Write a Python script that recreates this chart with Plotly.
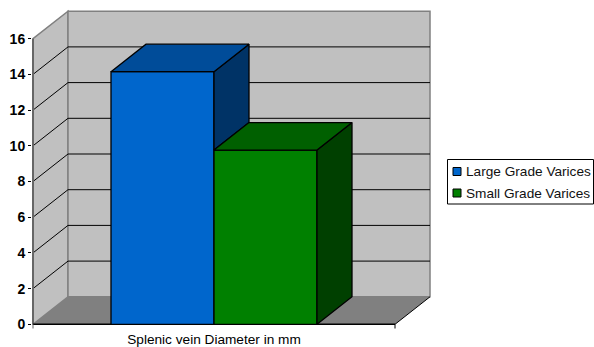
import plotly.graph_objects as go

# Chart data
category = "Splenic vein Diameter in mm"
series_names = ["Large Grade Varices", "Small Grade Varices"]
series_values = [14.15, 9.76]
y_ticks = [0, 2, 4, 6, 8, 10, 12, 14, 16]

# Face colours per series: front, top, side
front_colors = ["#0066CC", "#008000"]
top_colors = ["#004C99", "#006000"]
side_colors = ["#003366", "#004000"]
WALL = "#C0C0C0"
FLOOR = "#808080"
EDGE = "#808080"

W, H = 594, 347
# Plot frame in page pixels
LEFT, RIGHT, TOP, BOTTOM = 32, 432, 9, 325
PX_PER_UNIT = 17.85
ZERO_Y = 324.3
DEPTH_X = 35            # x units are pixels along the front plane
DEPTH_V = 27.5 / PX_PER_UNIT
SLOT = 362
BAR_START = 78
BAR_WIDTH = 103
BAR_EDGE = 1.3

y_lo = (ZERO_Y - BOTTOM) / PX_PER_UNIT
y_hi = (ZERO_Y - TOP) / PX_PER_UNIT
top_v = y_ticks[-1]


def poly(points, fill, color="rgba(0,0,0,0)", width=1, layer="below"):
    path = "M" + " L".join(f"{x},{y}" for x, y in points) + " Z"
    return dict(type="path", path=path, xref="x", yref="y", fillcolor=fill,
                line=dict(color=color, width=width), layer=layer)


def seg(x0, y0, x1, y1, color="black", width=1):
    return dict(type="line", xref="x", yref="y", x0=x0, y0=y0, x1=x1, y1=y1,
                line=dict(color=color, width=width), layer="below")


# Legend and end ticks are placed in page pixels (paper space spans the plot frame)
def px(x):
    return (x - LEFT) / (RIGHT - LEFT)


def py(y):
    return (BOTTOM - y) / (BOTTOM - TOP)


shapes = [
    # left wall, back wall, floor
    poly([(0, 0), (DEPTH_X, DEPTH_V), (DEPTH_X, top_v + DEPTH_V), (0, top_v)], WALL, EDGE, 1.5),
    poly([(DEPTH_X, DEPTH_V), (SLOT + DEPTH_X, DEPTH_V), (SLOT + DEPTH_X, top_v + DEPTH_V),
          (DEPTH_X, top_v + DEPTH_V)], WALL, EDGE, 1.5),
    poly([(0, 0), (SLOT, 0), (SLOT + DEPTH_X, DEPTH_V), (DEPTH_X, DEPTH_V)], FLOOR),
]
# Gridlines wrap from the left wall on to the back wall
for t in y_ticks[1:-1]:
    shapes.append(seg(0, t, DEPTH_X, t + DEPTH_V))
    shapes.append(seg(DEPTH_X, t + DEPTH_V, SLOT + DEPTH_X, t + DEPTH_V))
# Axes drawn on the front plane
shapes.append(seg(0, 0, 0, top_v, "#666666", 2))
shapes.append(seg(0, 0, SLOT, 0, "black", 1.5))
shapes.append(seg(SLOT, 0, SLOT + DEPTH_X, DEPTH_V, "black", 1))
# Category boundary ticks below the front axis
for tx, color in ((0, "#666666"), (SLOT, "black")):
    shapes.append(dict(type="line", xref="x", yref="paper", x0=tx, x1=tx, y0=py(ZERO_Y), y1=py(328.5),
                       line=dict(color=color, width=1)))

fig = go.Figure()

bar_lefts = [BAR_START + i * BAR_WIDTH for i in range(len(series_values))]

# Front faces
for name, v, x0, c in zip(series_names, series_values, bar_lefts, front_colors):
    fig.add_bar(x=[x0 + BAR_WIDTH / 2], y=[v], width=BAR_WIDTH, name=name,
                marker=dict(color=c, line=dict(color="black", width=BAR_EDGE)))

# Top and side faces; a side stops where the next bar's top begins
for i, (v, x0) in enumerate(zip(series_values, bar_lefts)):
    x1 = x0 + BAR_WIDTH
    floor_v = series_values[i + 1] if i + 1 < len(series_values) else 0
    fig.add_scatter(x=[x1, x1 + DEPTH_X, x1 + DEPTH_X, x1, x1],
                    y=[v, v + DEPTH_V, floor_v + DEPTH_V, floor_v, v],
                    mode="lines", fill="toself", fillcolor=side_colors[i],
                    line=dict(color="black", width=BAR_EDGE), hoverinfo="skip", cliponaxis=False)
    fig.add_scatter(x=[x0, x1, x1 + DEPTH_X, x0 + DEPTH_X, x0],
                    y=[v, v, v + DEPTH_V, v + DEPTH_V, v],
                    mode="lines", fill="toself", fillcolor=top_colors[i],
                    line=dict(color="black", width=BAR_EDGE), hoverinfo="skip", cliponaxis=False)

shapes.append(dict(type="rect", xref="paper", yref="paper", x0=px(447.5), x1=px(593.5),
                   y0=py(204), y1=py(159.5), fillcolor="white", line=dict(color="black", width=1)))
annotations = []
for i, (name, c) in enumerate(zip(series_names, front_colors)):
    cy = 171.5 + i * 21.5
    shapes.append(dict(type="rect", xref="paper", yref="paper", x0=px(453), x1=px(461),
                       y0=py(cy + 4), y1=py(cy - 4), fillcolor=c, line=dict(color="black", width=1)))
    annotations.append(dict(text=name, xref="paper", yref="paper", x=px(463.5), y=py(cy),
                            xanchor="left", yanchor="middle", showarrow=False,
                            font=dict(family="Liberation Sans", size=13.65, color="#111111")))

fig.update_layout(
    width=W, height=H, autosize=False,
    margin=dict(l=LEFT, r=W - RIGHT, t=TOP, b=H - BOTTOM, pad=0),
    paper_bgcolor="white", plot_bgcolor="white",
    showlegend=False, shapes=shapes, annotations=annotations,
    font=dict(family="Liberation Sans", color="black"),
    xaxis=dict(range=[(LEFT - 33), (RIGHT - 33)], showgrid=False, zeroline=False, showline=False,
               automargin=False, tickmode="array", tickvals=[SLOT / 2], ticktext=[category],
               ticks="", tickfont=dict(size=13.65), ticklabelstandoff=4),
    yaxis=dict(range=[y_lo, y_hi], showgrid=False, zeroline=False, showline=False,
               automargin=False, tickmode="array", tickvals=y_ticks, ticks="outside", ticklen=3,
               tickwidth=1, tickcolor="black",
               tickfont=dict(size=14, family="Liberation Sans", weight="bold")),
)

fig.write_html("out.html")
